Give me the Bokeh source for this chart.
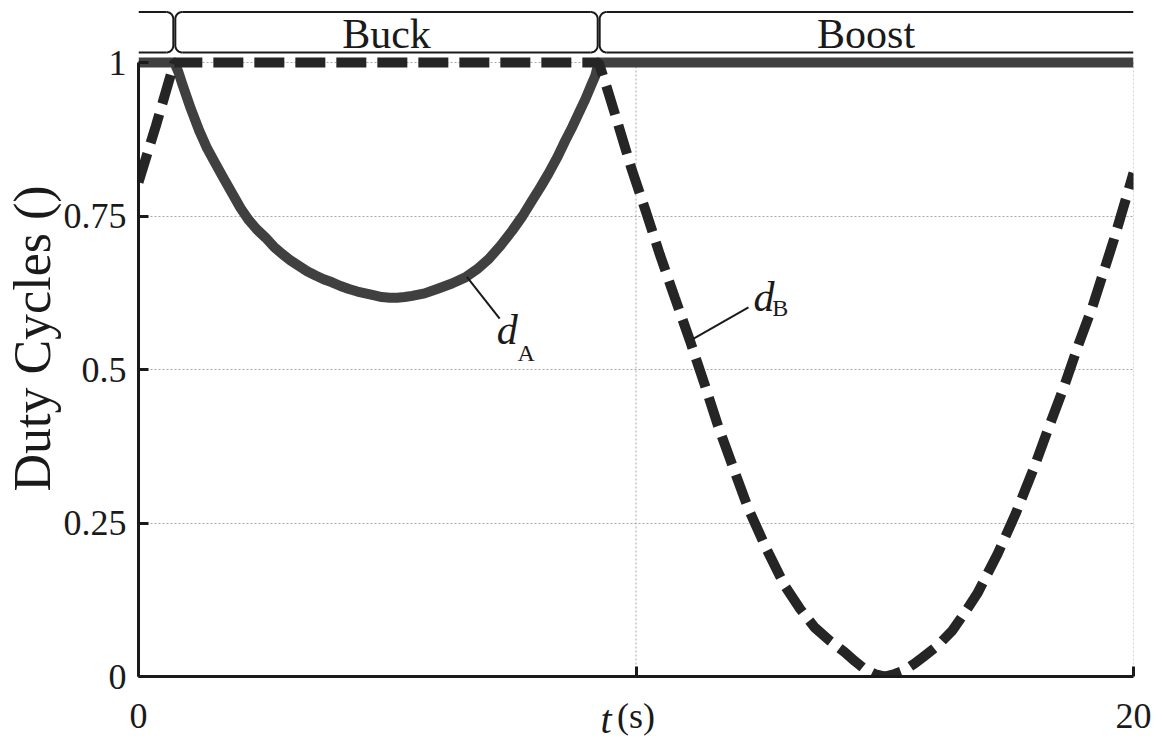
import numpy as np
from bokeh.plotting import figure
from bokeh.models import Range1d, FixedTicker
from bokeh.core.properties import value
from bokeh.embed import file_html
from bokeh.resources import INLINE

# ---------------- data ----------------
t_dA = [0, 0.72, 0.80, 0.88, 1.05, 1.22, 1.38, 1.55, 1.72, 1.89, 2.05, 2.22, 2.38,
        2.55, 2.72, 2.89, 3.05, 3.22, 3.39, 3.56, 3.72, 3.89, 4.06, 4.23, 4.40,
        4.56, 4.72, 4.89, 5.05, 5.20, 5.35, 5.50, 5.75, 6.03, 6.30, 6.57, 6.80,
        7.04, 7.28, 7.51, 7.72, 7.91, 8.08, 8.24, 8.42, 8.58, 8.72, 8.84, 8.98,
        9.11, 9.18, 9.25, 20]
d_A = [1, 1, 0.985, 0.965, 0.925, 0.889, 0.860, 0.835, 0.810, 0.786, 0.763, 0.743,
       0.728, 0.715, 0.700, 0.688, 0.678, 0.669, 0.660, 0.653, 0.647, 0.642, 0.636,
       0.631, 0.627, 0.624, 0.621, 0.618, 0.617, 0.617, 0.618, 0.620, 0.624, 0.632,
       0.640, 0.650, 0.663, 0.680, 0.702, 0.726, 0.750, 0.775, 0.797, 0.819, 0.846,
       0.873, 0.895, 0.916, 0.940, 0.965, 0.978, 1, 1]

t_dB = [0, 0.35, 0.72, 9.25, 9.41, 9.60, 9.91, 10.20, 10.48, 10.78, 11.08, 11.37,
        11.65, 11.95, 12.25, 12.62, 12.99, 13.30, 13.59, 13.90, 14.19, 14.40, 14.60,
        14.80, 15.00, 15.20, 15.40, 15.58, 15.76, 16.06, 16.36, 16.60, 16.86, 17.27,
        17.63, 18.00, 18.27, 18.60, 18.90, 19.17, 19.60, 20]
d_B = [0.805, 0.897, 1, 1, 0.960, 0.910, 0.827, 0.757, 0.687, 0.617, 0.548, 0.478,
       0.408, 0.341, 0.275, 0.208, 0.148, 0.110, 0.080, 0.058, 0.040, 0.025, 0.012,
       0.004, 0.0, 0.004, 0.010, 0.020, 0.031, 0.050, 0.075, 0.103, 0.135, 0.200,
       0.265, 0.340, 0.400, 0.471, 0.542, 0.601, 0.710, 0.820]

mode_names = ["", "Buck", "Boost"]
mode_edges = [0, 0.72, 9.25, 20]

x_ticks = [0, 10, 20]
x_tick_labels = {0: "0", 10: "(s)", 20: "20"}
y_ticks = [0, 0.25, 0.5, 0.75, 1]
y_tick_labels = {0: "0", 0.25: "0.25", 0.5: "0.5", 0.75: "0.75", 1: "1"}

y_label = "Duty Cycles ()"
x_label_var = "t"

# ---------------- styling ----------------
SERIF = "Liberation Serif"
INK = "#1a1a1a"
W, H = 1163, 752
L, R, T, B = 136, 30, 0, 76
px_y = 1.0 / 614.0            # data units per vertical pixel (0..1 spans 614 px)
px_x = 20.0 / (W - L - R)     # data units per horizontal pixel
y_top = 1 + 62 * px_y

def ypx(py):
    """vertical picture position (px from top) -> data y"""
    return (676 - py) * px_y

p = figure(width=W, height=H, x_range=Range1d(0, 20), y_range=Range1d(0, y_top),
           output_backend="svg", toolbar_location=None,
           min_border_left=L, min_border_right=R, min_border_top=T, min_border_bottom=B)
p.outline_line_color = None
p.background_fill_color = "white"
p.border_fill_color = "white"

# grid
p.xgrid.visible = False
p.ygrid.ticker = FixedTicker(ticks=y_ticks[1:])
p.ygrid.grid_line_color = "#a8a8a8"
p.ygrid.grid_line_width = 1
p.ygrid.grid_line_dash = "2 2"
gx = x_ticks[1:]
p.segment(x0=gx, y0=[y_ticks[0]] * len(gx), x1=gx, y1=[y_ticks[-1]] * len(gx),
          line_color="#a8a8a8", line_width=1, line_dash="2 2")

# axes
for ax in (p.xaxis[0], p.yaxis[0]):
    ax.axis_line_color = INK
    ax.axis_line_width = 3
    ax.major_tick_line_color = INK
    ax.major_tick_line_width = 3
    ax.major_tick_in = 10
    ax.major_tick_out = 0
    ax.minor_tick_line_color = None
    ax.major_label_text_font = SERIF
    ax.major_label_text_font_size = "36px"
    ax.major_label_text_color = INK

p.xaxis.ticker = FixedTicker(ticks=x_ticks)
p.xaxis.major_label_overrides = x_tick_labels
p.xaxis.major_label_standoff = 19
# italic "t" of the x label, shifted left of the "(s)" unit with no-break spaces
p.xaxis.axis_label = x_label_var + "\u00a0" * 6
p.xaxis.axis_label_text_font = SERIF
p.xaxis.axis_label_text_font_size = "40px"
p.xaxis.axis_label_text_font_style = "italic"
p.xaxis.axis_label_text_color = INK
p.xaxis.axis_label_standoff = -42

p.yaxis.ticker = FixedTicker(ticks=y_ticks)
p.yaxis.major_label_overrides = y_tick_labels
p.yaxis.bounds = (y_ticks[0], y_ticks[-1])
p.yaxis.major_label_standoff = 12
p.yaxis.axis_label = y_label
p.yaxis.axis_label_text_font = SERIF
p.yaxis.axis_label_text_font_size = "52px"
p.yaxis.axis_label_text_font_style = "normal"
p.yaxis.axis_label_text_color = INK
p.yaxis.axis_label_standoff = 0

# curves
p.line(t_dA, d_A, line_width=10, line_color="#404040", line_join="round")
p.line(t_dB, d_B, line_width=10, line_color="#252525", line_dash="30 11")

# curve labels with leader lines
p.segment(x0=[6.60, 11.15], y0=[0.651, 0.550], x1=[7.26, 12.26], y1=[0.583, 0.601],
          line_color=INK, line_width=2)
p.text(x=[7.20, 12.36], y=[ypx(329), ypx(296)], text=["d", "d"],
       text_font=value(SERIF), text_font_size="42px", text_font_style="italic",
       text_color=INK, text_baseline="middle", text_align="left")
p.text(x=[7.62, 12.74], y=[ypx(352), ypx(307)], text=["A", "B"],
       text_font=value(SERIF), text_font_size="24px",
       text_color=INK, text_baseline="middle", text_align="left")

# mode bracket above the plot
yt = ypx(11.5)
yb = ypx(52)
rx, ry, g = 7 * px_x, 7 * px_y, 1 * px_x
n = len(mode_names)
tops_x0, tops_x1 = [], []
for i in range(n):
    a = mode_edges[i] + (g + rx if i > 0 else 0)
    b = mode_edges[i + 1] - (g + rx if i < n - 1 else 0)
    tops_x0.append(a)
    tops_x1.append(b)
p.segment(x0=tops_x0, y0=[yt] * n, x1=tops_x1, y1=[yt] * n,
          line_color=INK, line_width=2)
p.segment(x0=tops_x0, y0=[yb] * n, x1=tops_x1, y1=[yb] * n,
          line_color=INK, line_width=2)
th1 = np.linspace(np.pi / 2, 0, 10)
th2 = np.linspace(0, -np.pi / 2, 10)
xs, ys = [], []
for bnd in mode_edges[1:-1]:
    for sgn in (-1, 1):
        cx = bnd + sgn * (g + rx)
        xs.append(list(np.concatenate([cx - sgn * rx * np.cos(th1),
                                       cx - sgn * rx * np.cos(th2)])))
        ys.append(list(np.concatenate([yt - ry + ry * np.sin(th1),
                                       yb + ry + ry * np.sin(th2)])))
p.multi_line(xs=xs, ys=ys, line_color=INK, line_width=2)

name_x = [(mode_edges[i] + mode_edges[i + 1]) / 2 for i in range(n) if mode_names[i]]
name_t = [m for m in mode_names if m]
p.text(x=name_x, y=[ypx(33)] * len(name_x), text=name_t,
       text_font=value(SERIF), text_font_size="42px", text_color=INK,
       text_align="center", text_baseline="middle")

open("out.html", "w").write(file_html(p, INLINE))
